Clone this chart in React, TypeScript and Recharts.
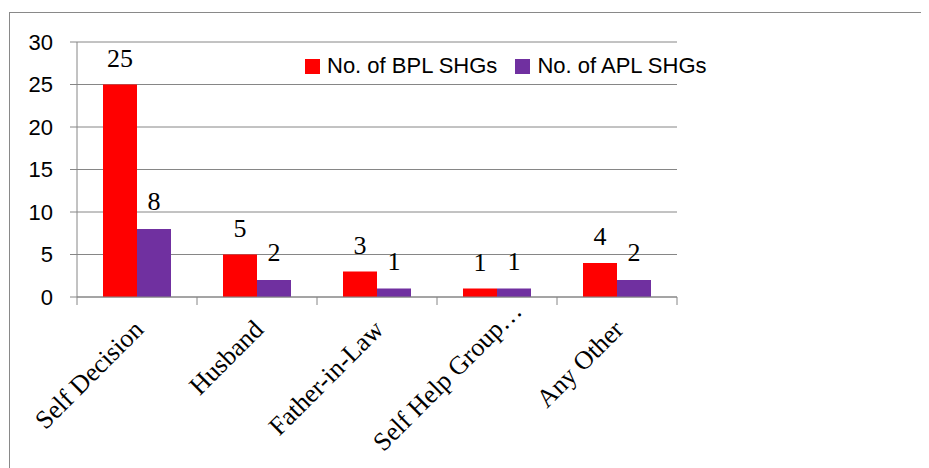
import React from 'react';
import { BarChart, Bar, XAxis, YAxis, CartesianGrid, Legend, LabelList } from 'recharts';

const categories = ['Self Decision', 'Husband', 'Father-in-Law', 'Self Help Group…', 'Any Other'];
const bplValues = [25, 5, 3, 1, 4];
const aplValues = [8, 2, 1, 1, 2];
const yTicks = [0, 5, 10, 15, 20, 25, 30];
const seriesNames = ['No. of BPL SHGs', 'No. of APL SHGs'];
const seriesColors = ['#FF0000', '#7030A0'];

const data = categories.map((c, i) => ({ name: c, bpl: bplValues[i], apl: aplValues[i] }));

const CHART_W = 929;
const CHART_H = 468;
const MARGIN = { top: 42, right: 252, left: 0, bottom: 0 };
const Y_AXIS_W = 77;
const PLOT_W = CHART_W - MARGIN.left - MARGIN.right - Y_AXIS_W;
const HALF_BAND = PLOT_W / categories.length / 2;
const GRID = '#868686';
const SERIF = '"Liberation Serif", "Times New Roman", serif';
const SANS = '"Liberation Sans", Arial, sans-serif';

const CategoryTick = (props: any) => {
  const { x, y, payload, index } = props;
  const label = String(payload.value);
  const hasEll = label.endsWith('…');
  const main = hasEll ? label.slice(0, -1) : label;
  const ax = x + 8;
  const ay = y + 34;
  return (
    <g>
      <line x1={x - HALF_BAND} y1={y} x2={x - HALF_BAND} y2={y + 8} stroke={GRID} />
      {index === categories.length - 1 && (
        <line x1={x + HALF_BAND} y1={y} x2={x + HALF_BAND} y2={y + 8} stroke={GRID} />
      )}
      <g transform={`translate(${ax},${ay}) rotate(-45)`}>
        <text x={0} y={0} textAnchor="end" fontFamily={SERIF} fontSize={26} fill="#000">
          {main}
        </text>
        {hasEll && (
          <text x={0} y={0} textAnchor="start" fontFamily={SERIF} fontSize={26} fill="#000">
            …
          </text>
        )}
      </g>
    </g>
  );
};

const LegendContent = () => (
  <div style={{ display: 'flex', alignItems: 'center', fontFamily: SANS, fontSize: 22, lineHeight: '22px', color: '#000', whiteSpace: 'nowrap' }}>
    {seriesNames.map((n, i) => (
      <div key={n} style={{ display: 'flex', alignItems: 'center', marginRight: i === 0 ? 18 : 0 }}>
        <span style={{ display: 'inline-block', width: 15, height: 15, background: seriesColors[i], marginRight: 7 }} />
        <span>{n}</span>
      </div>
    ))}
  </div>
);

export default function App() {
  return (
    <div style={{ position: 'relative', width: 921, height: 460, overflow: 'hidden' }}>
      <div style={{ position: 'absolute', left: 1, top: 4, width: 2000, height: 2000, border: '1px solid #898989' }} />
      <div style={{ position: 'absolute', left: -8, top: -8, width: CHART_W, height: CHART_H }}>
        <BarChart width={CHART_W} height={CHART_H} data={data} margin={MARGIN} barCategoryGap={26} barGap={0}>
          <CartesianGrid vertical={false} stroke={GRID} strokeWidth={1} />
          <XAxis
            dataKey="name"
            interval={0}
            height={171}
            axisLine={{ stroke: GRID }}
            tickLine={false}
            tickSize={0}
            tickMargin={0}
            tick={<CategoryTick />}
          />
          <YAxis
            width={Y_AXIS_W}
            domain={[0, 30]}
            ticks={yTicks}
            interval={0}
            axisLine={{ stroke: GRID }}
            tickLine={{ stroke: GRID }}
            tickSize={7}
            tickMargin={17}
            tick={{ fontFamily: SANS, fontSize: 22, fill: '#000' }}
          />
          <Legend
            layout="horizontal"
            verticalAlign="middle"
            align="center"
            content={<LegendContent />}
            wrapperStyle={{ position: 'absolute', left: 305, top: 55, width: 'auto', height: 22 }}
          />
          <Bar dataKey="bpl" name={seriesNames[0]} fill={seriesColors[0]} isAnimationActive={false}>
            <LabelList dataKey="bpl" position="top" offset={18} fontFamily={SERIF} fontSize={26} fill="#000" />
          </Bar>
          <Bar dataKey="apl" name={seriesNames[1]} fill={seriesColors[1]} isAnimationActive={false}>
            <LabelList dataKey="apl" position="top" offset={19} fontFamily={SERIF} fontSize={26} fill="#000" />
          </Bar>
        </BarChart>
      </div>
    </div>
  );
}
